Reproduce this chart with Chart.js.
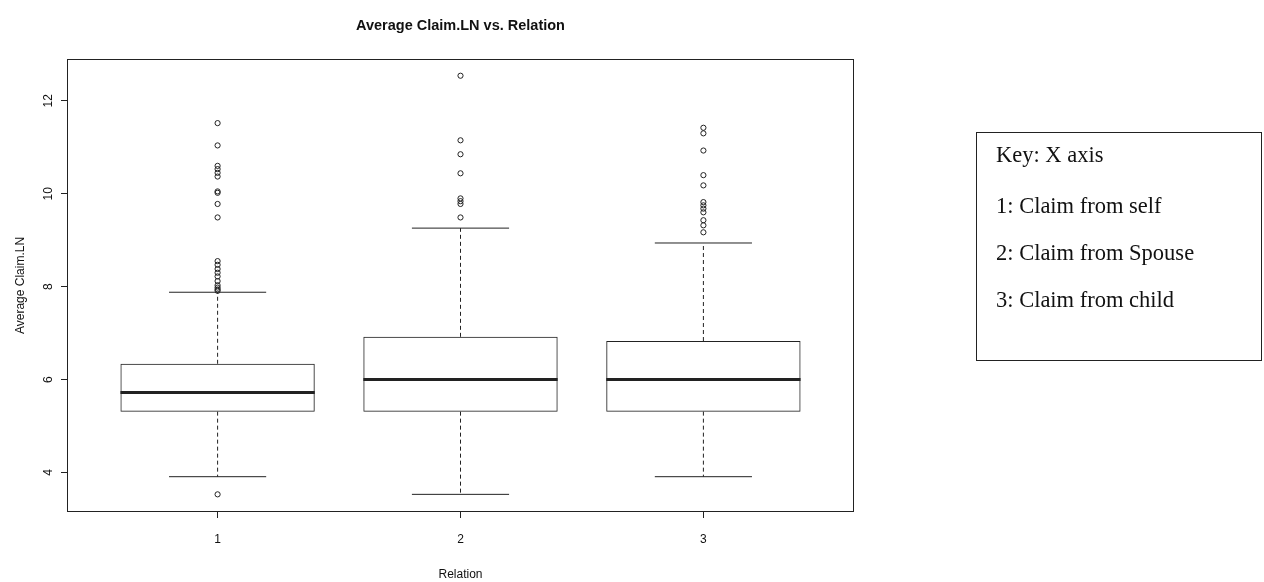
<!DOCTYPE html>
<html lang="en">
<head>
<meta charset="UTF-8">
<title>Average Claim.LN vs. Relation</title>
<script src="https://cdn.jsdelivr.net/npm/chart.js"></script>
<style>
  body { margin: 0; background: #fff; }
  .wrap { position: relative; width: 1264px; height: 582px; }
  #chart { position: absolute; left: 0; top: 0; }
  .title {
    position: absolute; left: 67px; width: 787px; top: 17px;
    text-align: center; font: bold 14.5px "Liberation Sans", Arial, sans-serif; color: #111;
  }
  .key {
    position: absolute; left: 976px; top: 132px; width: 284px; height: 227px;
    border: 1.5px solid #222; font-family: "Liberation Serif", "Times New Roman", serif;
    font-size: 22.5px; line-height: 26px; color: #111;
  }
  .key div { position: absolute; left: 19px; white-space: nowrap; }
</style>
</head>
<body>
<div class="wrap">
  <canvas id="chart" width="1264" height="582"></canvas>
  <div class="title">Average Claim.LN vs. Relation</div>
  <div class="key">
    <div style="top: 9px">Key: X axis</div>
    <div style="top: 60px">1: Claim from self</div>
    <div style="top: 107px">2: Claim from Spouse</div>
    <div style="top: 154px">3: Claim from child</div>
  </div>
</div>
<script>
// box plot summary per relation
const relations = [1, 2, 3];
const q1 = [5.31, 5.31, 5.31];
const medians = [5.72, 6.0, 6.0];
const q3 = [6.34, 6.92, 6.83];
const whiskerLow = [3.91, 3.53, 3.91];
const whiskerHigh = [7.88, 9.26, 8.94];

const outliers1 = [11.52, 11.04, 10.6, 10.53, 10.45, 10.37, 10.05, 10.02, 9.78, 9.49,
                   8.55, 8.47, 8.38, 8.3, 8.22, 8.12, 8.03, 7.98, 7.94, 7.91, 3.53];
const outliers2 = [12.54, 11.15, 10.85, 10.44, 9.9, 9.84, 9.78, 9.49];
const outliers3 = [11.42, 11.3, 10.93, 10.4, 10.18, 9.82, 9.75, 9.68, 9.6, 9.43, 9.32, 9.17];

const yTicks = [4, 6, 8, 10, 12];
const ink = '#222';

const outlierPoints = [];
[outliers1, outliers2, outliers3].forEach((list, i) => {
  list.forEach(v => outlierPoints.push({ x: relations[i], y: v }));
});

// whiskers, staples, medians and the frame
const boxExtras = {
  id: 'boxExtras',
  afterDatasetsDraw(chart) {
    const { ctx, chartArea, scales: { x, y } } = chart;
    const bars = chart.getDatasetMeta(0).data;
    ctx.save();
    ctx.strokeStyle = ink;
    relations.forEach((r, i) => {
      const cx = x.getPixelForValue(r);
      const half = bars[i].width / 2;
      ctx.lineWidth = 1;
      ctx.setLineDash([4, 3]);
      ctx.beginPath();
      ctx.moveTo(cx, y.getPixelForValue(q3[i]));
      ctx.lineTo(cx, y.getPixelForValue(whiskerHigh[i]));
      ctx.moveTo(cx, y.getPixelForValue(q1[i]));
      ctx.lineTo(cx, y.getPixelForValue(whiskerLow[i]));
      ctx.stroke();
      ctx.setLineDash([]);
      ctx.beginPath();
      [whiskerHigh[i], whiskerLow[i]].forEach(v => {
        const py = y.getPixelForValue(v);
        ctx.moveTo(cx - half / 2, py);
        ctx.lineTo(cx + half / 2, py);
      });
      ctx.stroke();
      ctx.lineWidth = 3;
      ctx.beginPath();
      const my = y.getPixelForValue(medians[i]);
      ctx.moveTo(cx - half, my);
      ctx.lineTo(cx + half, my);
      ctx.stroke();
    });
    ctx.lineWidth = 1;
    ctx.strokeRect(chartArea.left + 0.5, chartArea.top + 0.5,
                   chartArea.right - chartArea.left - 1, chartArea.bottom - chartArea.top - 1);
    ctx.restore();
  }
};

new Chart(document.getElementById('chart'), {
  type: 'bar',
  data: {
    datasets: [
      {
        type: 'bar',
        data: relations.map((r, i) => ({ x: r, y: [q1[i], q3[i]] })),
        backgroundColor: 'rgba(255,255,255,0)',
        borderColor: ink,
        borderWidth: 1,
        borderSkipped: false,
        barPercentage: 0.8,
        categoryPercentage: 1.0
      },
      {
        type: 'scatter',
        data: outlierPoints,
        pointStyle: 'circle',
        pointRadius: 2.6,
        pointBorderWidth: 1,
        pointBackgroundColor: 'rgba(255,255,255,0)',
        pointBorderColor: ink
      }
    ]
  },
  options: {
    responsive: false,
    animation: false,
    layout: { padding: { top: 59, right: 410, left: 0, bottom: 0 } },
    plugins: { legend: { display: false }, tooltip: { enabled: false } },
    scales: {
      x: {
        type: 'linear',
        min: 0.38,
        max: 3.62,
        offset: false,
        afterBuildTicks: s => { s.ticks = relations.map(v => ({ value: v })); },
        afterFit: s => { s.height = 70; },
        grid: { offset: false, drawOnChartArea: false, drawTicks: true, tickLength: 6, color: ink },
        border: { display: false },
        ticks: {
          padding: 14, color: '#111', maxRotation: 0,
          font: { family: '"Liberation Sans", Arial, sans-serif', size: 12 },
          callback: v => String(v)
        },
        title: {
          display: true, text: 'Relation', color: '#111',
          padding: { top: 0, bottom: 0 },
          font: { family: '"Liberation Sans", Arial, sans-serif', size: 12 }
        }
      },
      y: {
        type: 'linear',
        min: 3.15,
        max: 12.9,
        afterBuildTicks: s => { s.ticks = yTicks.map(v => ({ value: v })); },
        afterFit: s => { s.width = 67; },
        grid: { drawOnChartArea: false, drawTicks: true, tickLength: 6, color: ink },
        border: { display: false },
        ticks: {
          padding: 6, color: '#111', minRotation: 90, maxRotation: 90, crossAlign: 'center',
          font: { family: '"Liberation Sans", Arial, sans-serif', size: 12 },
          callback: v => String(v)
        },
        title: {
          display: true, text: 'Average Claim.LN', color: '#111',
          padding: { top: 13, bottom: 0 },
          font: { family: '"Liberation Sans", Arial, sans-serif', size: 12 }
        }
      }
    }
  },
  plugins: [boxExtras]
});
</script>
</body>
</html>
